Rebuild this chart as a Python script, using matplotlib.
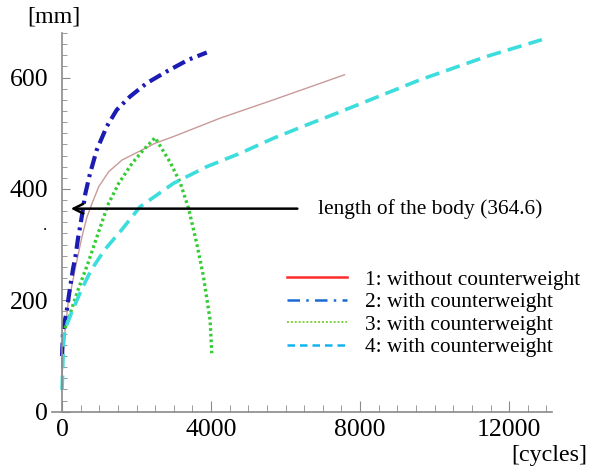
import matplotlib
matplotlib.use("Agg")
import matplotlib.pyplot as plt
from matplotlib.lines import Line2D
from matplotlib.ticker import MultipleLocator, FixedLocator

plt.rcParams['font.family'] = ['Liberation Serif', 'DejaVu Serif']

# curve data (cycles, mm)
x1 = [0, 40, 170, 250, 403, 537, 671, 805, 984, 1253, 1611, 2058, 2497, 2989, 4240, 5674, 7580]
y1 = [60, 120, 200, 222, 273, 315, 350, 374, 404, 431, 452, 467, 482, 494, 527, 560, 605]

x2 = [0, 27, 116, 206, 295, 358, 430, 492, 564, 626, 752, 931, 1199, 1468, 1826, 2273, 2810, 3391, 3884]
y2 = [100, 147, 177, 219, 257, 278, 312, 335, 365, 392, 428, 470, 512, 542, 566, 590, 611, 632, 645]

x3 = [80, 161, 430, 698, 966, 1235, 1521, 1879, 2183, 2497, 2900, 3168, 3391, 3615, 3794, 3973, 4018]
y3 = [150, 165, 219, 267, 320, 372, 410, 446, 470, 492, 448, 412, 366, 302, 243, 165, 105]

x4 = [0, 35, 72, 250, 519, 787, 1146, 1593, 2094, 2989, 3884, 4779, 5674, 6568, 7374, 7821, 9611, 11400, 12878]
y4 = [39, 117, 147, 177, 219, 255, 291, 326, 368, 410, 440, 464, 491, 515, 536, 548, 596, 638, 668]

labels = ["1: without counterweight", "2: with counterweight",
          "3: with counterweight", "4: with counterweight"]

body_length = 364.6
x_ticks = [0, 4000, 8000, 12000]
y_ticks = [0, 200, 400, 600]

fig = plt.figure(figsize=(5.99, 4.68), dpi=100)
ax = fig.add_axes([52 / 599, (468 - 411.7) / 468, 500 / 599, 378.7 / 468])
ax.set_xlim(-270, 13150)
ax.set_ylim(0, 680)

ax.plot(x1, y1, color="#c99a9a", lw=1.0)
ax.plot(x2, y2, color="#1c1cb4", lw=3.0, dashes=(3.2, 1.3, 0.7, 1.3))
ax.plot(x3, y3, color="#33cc33", lw=2.4, dashes=(0.8, 0.9))
ax.plot(x4, y4, color="#3ddddd", lw=2.6, dashes=(4, 2))

# arrow for the body length
ax.annotate("", xy=(160, body_length), xytext=(6390, body_length),
            arrowprops=dict(arrowstyle="->,head_length=0.7,head_width=0.35",
                            color="black", lw=1.8))
ax.text(6870, body_length, "length of the body (364.6)", fontsize=15.4,
        va="center", ha="left")

# spines
for s in ["top", "right"]:
    ax.spines[s].set_visible(False)
ax.spines["left"].set_position(("data", 0))
for s in ["left", "bottom"]:
    ax.spines[s].set_color("#8a8a8a")
    ax.spines[s].set_linewidth(1.2)

ax.xaxis.set_major_locator(FixedLocator(x_ticks))
ax.xaxis.set_minor_locator(MultipleLocator(500))
ax.yaxis.set_major_locator(FixedLocator(y_ticks))
ax.yaxis.set_minor_locator(MultipleLocator(20))
ax.tick_params(axis="both", which="both", direction="in", color="#8a8a8a")
ax.tick_params(axis="x", which="major", length=8, labelsize=18.5, pad=5)
ax.tick_params(axis="x", which="minor", length=5)
ax.tick_params(axis="y", which="major", length=6, labelsize=18.5, pad=10)
ax.tick_params(axis="y", which="minor", length=3.5)
ax.set_facecolor("white")

fig.text(54 / 599, 1 - 17 / 468, "[mm]", fontsize=17.3, ha="center", va="center")
fig.text(549 / 599, 1 - 455 / 468, "[cycles]", fontsize=17.3, ha="center", va="center")
fig.text(45 / 599, 1 - 226 / 468, ".", fontsize=12, ha="center", va="center")

handles = [
    Line2D([], [], color="#ff2a2a", lw=1.8),
    Line2D([], [], color="#1a6ad6", lw=1.8, dashes=(5, 2.5, 1, 2.5)),
    Line2D([], [], color="#80d040", lw=1.4, dashes=(1, 1)),
    Line2D([], [], color="#12b4f0", lw=1.8, dashes=(3, 2)),
]
ax.legend(handles, labels, loc="upper left", bbox_to_anchor=(276 / 599, 1 - 259 / 468),
          bbox_transform=fig.transFigure, frameon=False, fontsize=15.4,
          handlelength=2.8, handletextpad=0.85, labelspacing=0.12, borderpad=0)

fig.savefig("out.png", dpi=100, facecolor="white")
